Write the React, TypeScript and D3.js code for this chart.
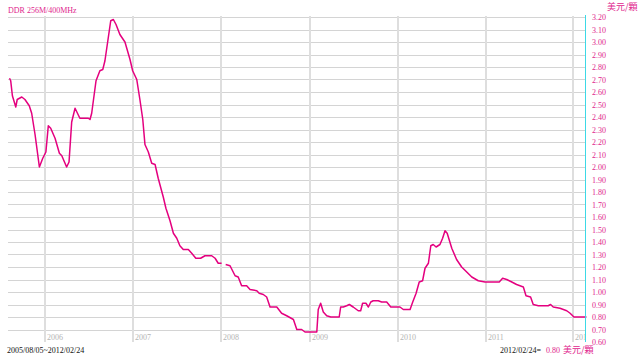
import React from "react";
import * as d3 from "d3";

const TITLE = "DDR 256M/400MHz";
const UNIT = "美元/顆";
const RANGE_LABEL = "2005/08/05~2012/02/24";
const LAST_DATE_LABEL = "2012/02/24=";
const LAST_VALUE = "0.80";
const START = "2005-08-05";
const END = "2012-02-24";

const yearLabels = ["2006", "2007", "2008", "2009", "2010", "2011", "2012"];
const yTicks = [
  0.6, 0.7, 0.8, 0.9, 1.0, 1.1, 1.2, 1.3, 1.4, 1.5, 1.6, 1.7, 1.8, 1.9,
  2.0, 2.1, 2.2, 2.3, 2.4, 2.5, 2.6, 2.7, 2.8, 2.9, 3.0, 3.1, 3.2,
];

const dates = [
  "2005-08-05", "2005-08-10", "2005-08-17", "2005-08-31", "2005-09-06", "2005-09-25",
  "2005-10-08", "2005-10-26", "2005-11-05", "2005-11-19", "2005-12-07", "2005-12-21",
  "2006-01-03", "2006-01-13", "2006-01-23", "2006-02-10", "2006-02-28", "2006-03-10",
  "2006-03-30", "2006-04-09", "2006-04-20", "2006-05-04", "2006-05-24", "2006-06-14",
  "2006-06-28", "2006-07-05", "2006-07-12", "2006-07-30", "2006-08-15", "2006-08-27",
  "2006-09-05", "2006-09-29", "2006-10-10", "2006-10-21", "2006-11-06", "2006-11-27",
  "2006-12-18", "2006-12-29", "2007-01-15", "2007-01-28", "2007-02-09", "2007-02-18",
  "2007-03-04", "2007-03-18", "2007-04-01", "2007-04-14", "2007-05-05", "2007-05-16",
  "2007-06-02", "2007-06-16", "2007-06-30", "2007-07-13", "2007-07-27", "2007-08-17",
  "2007-08-31", "2007-09-17", "2007-10-07", "2007-10-25", "2007-11-22", "2007-12-06",
  "2007-12-19", "2008-01-02", "2008-01-10", "2008-01-19", "2008-02-06", "2008-02-27",
  "2008-03-11", "2008-03-25", "2008-04-15", "2008-04-29", "2008-05-27", "2008-06-06",
  "2008-06-23", "2008-07-07", "2008-07-21", "2008-08-18", "2008-09-07", "2008-09-28",
  "2008-10-26", "2008-11-09", "2008-11-29", "2008-12-13", "2009-01-31", "2009-02-06",
  "2009-02-16", "2009-02-27", "2009-03-13", "2009-03-30", "2009-04-16", "2009-05-04",
  "2009-05-10", "2009-05-21", "2009-06-04", "2009-06-15", "2009-07-01", "2009-07-22",
  "2009-08-01", "2009-08-09", "2009-08-23", "2009-09-02", "2009-09-12", "2009-09-22",
  "2009-10-13", "2009-10-27", "2009-11-17", "2009-12-04", "2010-01-11", "2010-01-25",
  "2010-02-22", "2010-03-05", "2010-03-19", "2010-04-01", "2010-04-15", "2010-04-25",
  "2010-05-09", "2010-05-19", "2010-05-29", "2010-06-10", "2010-06-26", "2010-07-07",
  "2010-07-17", "2010-07-26", "2010-08-14", "2010-09-03", "2010-09-24", "2010-10-15",
  "2010-11-05", "2010-12-02", "2010-12-30", "2011-02-27", "2011-03-13", "2011-03-30",
  "2011-04-20", "2011-05-10", "2011-06-07", "2011-06-18", "2011-07-07", "2011-07-18",
  "2011-08-08", "2011-09-18", "2011-09-28", "2011-10-09", "2011-11-06", "2011-12-04",
  "2011-12-18", "2012-01-03", "2012-02-24",
];

const prices: (number | null)[] = [
  2.71, 2.69, 2.57, 2.48, 2.54, 2.56,
  2.54, 2.49, 2.43, 2.26, 2.0, 2.07,
  2.12, 2.33, 2.31, 2.23, 2.11, 2.09,
  2.0, 2.04, 2.36, 2.47, 2.39, 2.39,
  2.39, 2.38, 2.43, 2.69, 2.77, 2.78,
  2.85, 3.17, 3.18, 3.14, 3.06, 3.0,
  2.86, 2.77, 2.7, 2.54, 2.38, 2.18,
  2.12, 2.03, 2.02, 1.91, 1.76, 1.67,
  1.57, 1.47, 1.43, 1.37, 1.34, 1.34,
  1.31, 1.27, 1.27, 1.29, 1.29, 1.27,
  1.23, 1.23, null, 1.22, 1.21, 1.13,
  1.12, 1.05, 1.05, 1.02, 1.01, 0.99,
  0.98, 0.96, 0.88, 0.88, 0.83, 0.81,
  0.78, 0.7, 0.7, 0.68, 0.68, 0.86,
  0.91, 0.84, 0.81, 0.8, 0.8, 0.8,
  0.88, 0.88, 0.89, 0.9, 0.88, 0.85,
  0.85, 0.91, 0.91, 0.88, 0.92, 0.93,
  0.93, 0.92, 0.92, 0.88, 0.88, 0.86,
  0.86, 0.92, 0.99, 1.08, 1.09, 1.19,
  1.23, 1.37, 1.38, 1.36, 1.38, 1.43,
  1.49, 1.47, 1.35, 1.26, 1.2, 1.16,
  1.12, 1.09, 1.08, 1.08, 1.11, 1.1,
  1.08, 1.06, 1.04, 0.97, 0.96, 0.9,
  0.89, 0.89, 0.9, 0.88, 0.87, 0.85,
  0.83, 0.8, 0.8,
];

const W = 640;
const H = 358;
const PLOT_L = 8;
const PLOT_R = 585;
const PLOT_T = 17;
const PLOT_B = 342;

const PINK = "#e4007f";
const LABEL_PINK = "#e0258d";
const GRID = "#d4d4d4";
const VGRID = "#dedede";
const CYAN = "#3dd9e6";
const FONT = "'Liberation Serif', 'Times New Roman', serif";
const CJK = "'Noto Sans CJK TC', 'Noto Sans CJK SC', sans-serif";

const parse = d3.utcParse("%Y-%m-%d");

export default function App() {
  const x = d3
    .scaleUtc()
    .domain([parse(START) as Date, parse(END) as Date])
    .range([9.5, 586.5]);
  const y = d3.scaleLinear().domain([0.6, 3.2]).range([PLOT_B, PLOT_T]);

  const data = dates.map((d, i) => ({ date: parse(d) as Date, value: prices[i] }));

  const line = d3
    .line<{ date: Date; value: number | null }>()
    .defined((d) => d.value != null)
    .x((d) => x(d.date))
    .y((d) => y(d.value as number));

  const yearX = yearLabels.map((yr) => x(parse(`${yr}-01-01`) as Date));

  return (
    <svg
      width={W}
      height={H}
      viewBox={`0 0 ${W} ${H}`}
      style={{ position: "absolute", left: 0, top: 0, background: "#fff" }}
    >
      <defs>
        <clipPath id="plotClip">
          <rect x={PLOT_L} y={0} width={PLOT_R - PLOT_L} height={PLOT_B + 2} />
        </clipPath>
      </defs>
      <rect x={0} y={0} width={W} height={H} fill="#fff" />

      {/* horizontal grid */}
      {yTicks
        .filter((v) => v > 0.65)
        .map((v) => {
          const yy = Math.round(y(v)) + 0.5;
          return (
            <line
              key={`h${v}`}
              x1={PLOT_L}
              x2={PLOT_R}
              y1={yy}
              y2={yy}
              stroke={GRID}
              strokeWidth={1}
            />
          );
        })}

      {/* vertical year grid and labels */}
      <g clipPath="url(#plotClip)">
        {yearX.map((xx, i) => (
          <g key={yearLabels[i]}>
            <line
              x1={Math.round(xx)}
              x2={Math.round(xx)}
              y1={PLOT_T - 1}
              y2={PLOT_B}
              stroke={VGRID}
              strokeWidth={2}
            />
            <text
              x={Math.round(xx) + 2}
              y={340}
              fontSize={8}
              fontFamily={FONT}
              fill="#b4b4b4"
            >
              {yearLabels[i]}
            </text>
          </g>
        ))}
      </g>

      {/* price line */}
      <path
        d={line(data) || ""}
        fill="none"
        stroke={PINK}
        strokeWidth={1.5}
        strokeLinejoin="round"
      />

      {/* right axis */}
      <line x1={PLOT_R + 0.5} x2={PLOT_R + 0.5} y1={15} y2={PLOT_B} stroke={CYAN} strokeWidth={1} />
      {yTicks.map((v) => (
        <text
          key={`t${v}`}
          x={592}
          y={y(v) + 3}
          fontSize={8}
          fontFamily={FONT}
          fill={LABEL_PINK}
        >
          {v.toFixed(2)}
        </text>
      ))}

      {/* title & unit */}
      <text x={8} y={13} fontSize={8} fontFamily={FONT} fill={LABEL_PINK}>
        {TITLE}
      </text>
      <text x={607} y={10} fontSize={9} fontFamily={CJK} fill={LABEL_PINK}>
        {UNIT}
      </text>

      {/* footer */}
      <text x={7} y={353} fontSize={8} fontFamily={FONT} fill="#111">
        {RANGE_LABEL}
      </text>
      <text x={500} y={353} fontSize={8} fontFamily={FONT} fill="#111">
        {LAST_DATE_LABEL}
      </text>
      <text x={546} y={353} fontSize={8} fontFamily={FONT} fill={LABEL_PINK}>
        {LAST_VALUE}
        <tspan dx={3} fontFamily={CJK} fontSize={9}>
          {UNIT}
        </tspan>
      </text>
    </svg>
  );
}
